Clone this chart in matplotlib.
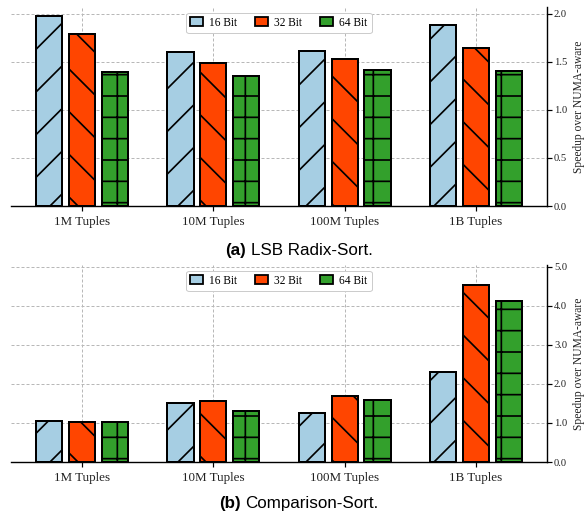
import matplotlib
matplotlib.use('Agg')
import matplotlib.pyplot as plt
import matplotlib.patches as mpatches
from matplotlib.ticker import FormatStrFormatter, MultipleLocator
import numpy as np

# figure is drawn at a high dpi so the hatch tiles come out as coarse as in the paper
DPI = 256
W, H = 587, 514


def px(v):
    # pixels -> points at this dpi
    return v * 72.0 / DPI


categories = ['1M Tuples', '10M Tuples', '100M Tuples', '1B Tuples']
series = ['16 Bit', '32 Bit', '64 Bit']
colors = ['#a6cee3', '#ff4500', '#33a02c']
hatches = ['//', '\\\\', '++']

radix_16 = [1.98, 1.60, 1.61, 1.885]
radix_32 = [1.79, 1.49, 1.53, 1.64]
radix_64 = [1.39, 1.35, 1.41, 1.40]

comp_16 = [1.06, 1.50, 1.26, 2.31]
comp_32 = [1.02, 1.57, 1.70, 4.53]
comp_64 = [1.02, 1.31, 1.60, 4.12]

plt.rcParams['font.family'] = ['Liberation Serif', 'DejaVu Serif']
plt.rcParams['hatch.linewidth'] = px(1.7)
plt.rcParams['lines.scale_dashes'] = False

fig = plt.figure(figsize=(W / DPI, H / DPI), dpi=DPI)
ax_a = fig.add_axes([11 / W, 308 / H, 536 / W, 199 / H])
ax_b = fig.add_axes([11 / W, 52 / H, 536 / W, 197 / H])


def draw_panel(ax, data, ymax, step):
    x = np.arange(len(categories))
    for i, vals in enumerate(data):
        ax.bar(x + (i - 1) * 0.25, vals, 0.2, color=colors[i], edgecolor='black',
               linewidth=px(2.0), hatch=hatches[i], zorder=3)
    ax.set_xlim(-0.54, 3.54)
    ax.set_ylim(0, ymax)
    ax.set_xticks(x)
    ax.set_xticklabels(categories, fontsize=px(13), color='#222222')
    ax.yaxis.set_major_locator(MultipleLocator(step))
    ax.yaxis.set_major_formatter(FormatStrFormatter('%.1f'))
    ax.yaxis.tick_right()
    ax.yaxis.set_label_position('right')
    ax.set_ylabel('Speedup over NUMA-aware', fontsize=px(11.6), color='#222222')
    ax.yaxis.set_label_coords(1.049, 0.5)
    ax.tick_params(axis='y', labelsize=px(10.5), length=px(5), width=px(1.2),
                   pad=px(2), labelcolor='#222222')
    ax.tick_params(axis='x', length=px(5), width=px(1.2), pad=px(5))
    for s in ['left', 'top']:
        ax.spines[s].set_visible(False)
    for s in ['right', 'bottom']:
        ax.spines[s].set_linewidth(px(1.4))
    ax.grid(True, linestyle=(0, (px(3), px(2))), color='#b8b8b8', linewidth=px(1))
    ax.set_axisbelow(True)

    handles = [mpatches.Patch(facecolor=c, edgecolor='black', linewidth=px(1.8), label=s)
               for c, s in zip(colors, series)]
    leg = ax.legend(handles=handles, loc='upper center', ncol=3, fontsize=px(11.6),
                    handlelength=1.12, handleheight=0.78, handletextpad=0.52,
                    columnspacing=1.55, borderpad=0.35, fancybox=True, framealpha=1)
    leg.get_frame().set_edgecolor('#cccccc')
    leg.get_frame().set_linewidth(px(1))


draw_panel(ax_a, [radix_16, radix_32, radix_64], 2.07, 0.5)
draw_panel(ax_b, [comp_16, comp_32, comp_64], 5.05, 1.0)


def caption(tag, text, baseline_px):
    y = 1 - baseline_px / H
    t1 = fig.text(0, y, tag, fontweight='bold', fontsize=px(17),
                  family='Liberation Sans', va='baseline')
    t2 = fig.text(0, y, text, fontsize=px(17), family='Liberation Sans', va='baseline')
    return t1, t2


caps = [caption('(a)', 'LSB Radix-Sort.', 255), caption('(b)', 'Comparison-Sort.', 508)]
fig.canvas.draw()
r = fig.canvas.get_renderer()
for t1, t2 in caps:
    w1 = t1.get_window_extent(r).width
    w2 = t2.get_window_extent(r).width
    gap = 4.5
    x0 = 299 - (w1 + gap + w2) / 2
    t1.set_x(x0 / W)
    t2.set_x((x0 + w1 + gap) / W)

fig.savefig('out.png', dpi=DPI)
